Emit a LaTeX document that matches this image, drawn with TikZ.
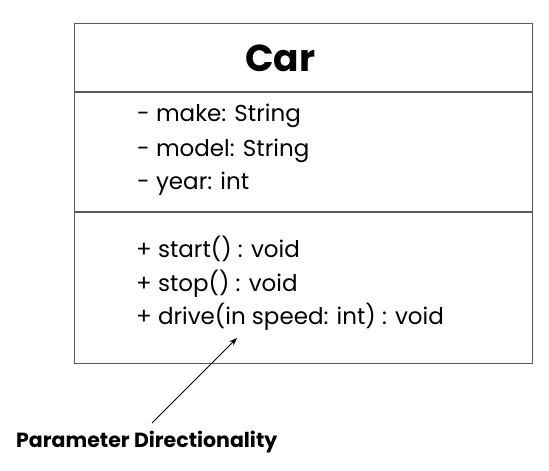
\documentclass[tikz,border=0pt]{standalone}
\usepackage{fontspec}
\setmainfont{Poppins}
\usetikzlibrary{arrows.meta}
\begin{document}
\begin{tikzpicture}[x=1pt,y=1pt,
  boxline/.style={draw=black!65,line width=1.3pt},
  member/.style={anchor=base west,inner sep=0pt,font=\fontsize{23}{23}\selectfont},
  title/.style={anchor=base west,inner sep=0pt,font=\fontsize{37.5}{37.5}\selectfont\bfseries},
  note/.style={anchor=base west,inner sep=0pt,font=\fontsize{20.5}{20.5}\selectfont\bfseries},
  pointer/.style={draw=black,line width=0.9pt,-{Stealth[length=8pt,width=6pt]}}]
\useasboundingbox (0,0) rectangle (549,471);
\fill[white] (0,0) rectangle (549,471);
\node[boxline,minimum width=458pt,minimum height=340pt,anchor=south west,inner sep=0pt] (box) at (74,107) {};
\coordinate (d1l) at (74,379); \coordinate (d1r) at (532,379);
\coordinate (d2l) at (74,259); \coordinate (d2r) at (532,259);
\draw[boxline] (d1l) -- (d1r);
\draw[boxline] (d2l) -- (d2r);
\node[title] (car) at (245,399) {Car};
\node[member] (a1) at (137,349) {- make: String};
\node[member] (a2) at (137,314) {- model: String};
\node[member] (a3) at (137,281) {- year: int};
\node[member] (m1) at (136,213) {+ start() : void};
\node[member] (m2) at (136,179) {+ stop() : void};
\node[member] (m3) at (136,146) {+ drive(in speed: int) : void};
\node[note] (lbl) at (16,23) {Parameter Directionality};
\coordinate (tail) at (152,48);
\coordinate (tip) at (237,133);
\draw[pointer] (tail) -- (tip);
\end{tikzpicture}
\end{document}
